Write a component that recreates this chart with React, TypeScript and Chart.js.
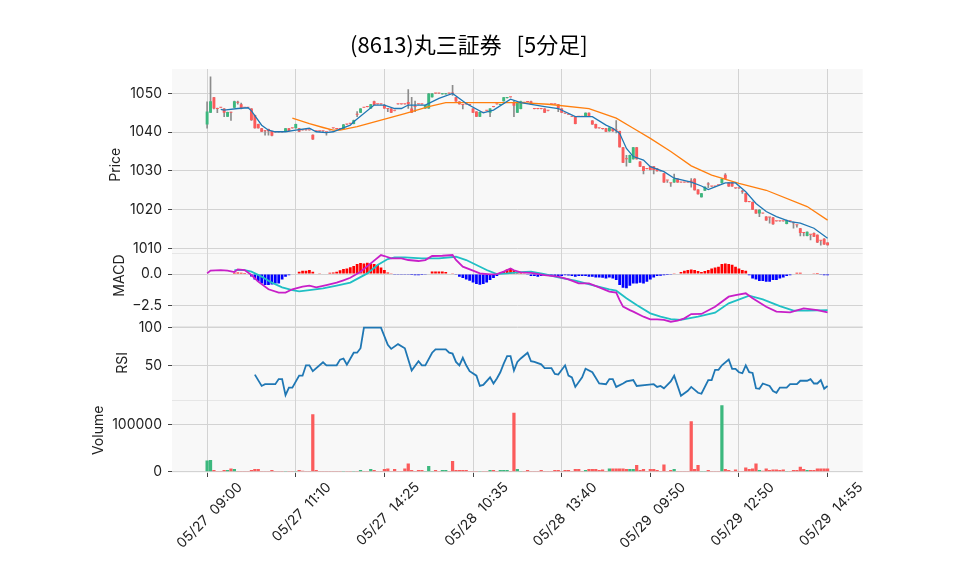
import React, { useEffect, useRef } from 'react';
import { Chart, registerables } from 'chart.js';

Chart.register(...registerables);

const title = '(8613)丸三証券   [5分足]';

const tickPositions = [0, 26, 52, 78, 104, 130, 156, 182];
const tickLabels = ['05/27  09:00', '05/27  11:10', '05/27  14:25', '05/28  10:35', '05/28  13:40', '05/29  09:50', '05/29  12:50', '05/29  14:55'];
const priceTicks = [1010, 1020, 1030, 1040, 1050];
const macdTicks = [-2.5, 0];
const rsiTicks = [50, 100];
const volumeTicks = [0, 100000];

const opens = [
  1042.0, 1045.0, 1049.0, 1046.0, 1046.3, 1046.1, 1044.0, 1045.0, 1046.3, 1047.6,
  1047.2, 1046.3, 1046.3, 1046.1, 1044.4, 1042.1, 1041.0, 1040.2, 1040.8, 1040.3,
  1040.0, 1040.0, 1040.0, 1040.2, 1041.0, 1041.0, 1041.0, 1041.0, 1040.5, 1040.5,
  1040.5, 1039.3, 1040.2, 1040.2, 1040.2, 1040.0, 1040.5, 1041.0, 1040.8, 1040.8,
  1040.8, 1042.0, 1042.2, 1042.1, 1044.5, 1045.0, 1046.3, 1046.5, 1046.1, 1048.0,
  1047.2, 1047.2, 1047.0, 1046.0, 1046.1, 1045.5, 1047.2, 1047.2, 1047.2, 1047.8,
  1046.1, 1046.5, 1047.2, 1047.2, 1046.1, 1046.1, 1049.0, 1050.0, 1050.0, 1049.8,
  1049.8, 1050.0, 1050.0, 1049.0, 1047.9, 1047.0, 1047.2, 1047.0, 1046.1, 1045.3,
  1044.0, 1045.0, 1045.5, 1045.0, 1046.5, 1047.2, 1047.0, 1048.0, 1048.8, 1049.0,
  1047.5, 1045.0, 1046.0, 1047.6, 1047.8, 1048.0, 1046.0, 1046.0, 1046.0, 1046.1,
  1045.5, 1047.2, 1047.2, 1047.2, 1046.1, 1044.8, 1044.5, 1044.0, 1044.0, 1044.0,
  1044.0, 1044.0, 1045.0, 1043.0, 1042.1, 1041.0, 1040.8, 1041.0, 1040.2, 1041.0,
  1040.4, 1040.3, 1036.1, 1033.0, 1032.1, 1033.0, 1036.1, 1032.4, 1031.2, 1030.5,
  1031.2, 1031.2, 1030.6, 1029.9, 1029.4, 1027.5, 1026.8, 1027.0, 1028.0, 1027.0,
  1027.0, 1027.0, 1027.5, 1028.0, 1025.2, 1023.2, 1024.9, 1026.5, 1026.0, 1026.0,
  1026.3, 1026.8, 1029.0, 1027.0, 1027.0, 1025.5, 1025.5, 1024.6, 1024.2, 1022.0,
  1022.0, 1020.0, 1019.0, 1019.0, 1018.2, 1018.0, 1018.0, 1017.0, 1017.0, 1017.0,
  1016.3, 1017.0, 1016.5, 1016.0, 1015.2, 1014.0, 1013.2, 1013.5, 1014.0, 1013.5,
  1012.0, 1012.5, 1011.5,
];
const highs = [
  1047.8, 1054.3, 1049.0, 1046.2, 1046.3, 1046.1, 1045.2, 1045.2, 1048.0, 1048.0,
  1047.5, 1046.3, 1046.3, 1046.1, 1044.4, 1042.1, 1041.0, 1040.5, 1040.8, 1040.3,
  1040.0, 1040.0, 1040.0, 1041.0, 1041.0, 1041.0, 1042.1, 1041.0, 1040.5, 1040.5,
  1040.5, 1039.3, 1040.2, 1040.2, 1040.2, 1040.0, 1040.5, 1041.0, 1040.8, 1040.8,
  1042.0, 1042.0, 1042.2, 1043.1, 1045.3, 1046.1, 1046.3, 1046.5, 1047.2, 1048.0,
  1047.2, 1047.2, 1047.2, 1046.0, 1046.1, 1045.5, 1047.2, 1047.2, 1047.2, 1051.0,
  1049.0, 1048.0, 1047.2, 1047.2, 1047.0, 1050.0, 1050.0, 1050.0, 1050.0, 1050.0,
  1050.0, 1050.0, 1052.1, 1049.0, 1047.9, 1047.0, 1047.2, 1047.0, 1046.1, 1045.3,
  1045.2, 1045.0, 1045.5, 1046.1, 1046.5, 1047.2, 1047.2, 1049.0, 1049.0, 1049.0,
  1048.0, 1047.6, 1048.0, 1047.6, 1047.8, 1048.0, 1046.0, 1046.0, 1046.0, 1046.1,
  1045.5, 1047.2, 1047.2, 1047.2, 1046.1, 1044.8, 1044.5, 1044.0, 1044.0, 1044.0,
  1044.0, 1045.0, 1045.0, 1043.0, 1042.1, 1041.0, 1040.8, 1041.0, 1041.2, 1041.0,
  1043.0, 1040.3, 1036.1, 1034.0, 1034.1, 1036.1, 1036.1, 1032.4, 1031.2, 1030.5,
  1031.2, 1031.2, 1030.6, 1029.9, 1029.4, 1027.5, 1026.8, 1029.2, 1028.0, 1027.0,
  1027.0, 1027.0, 1028.0, 1028.0, 1025.2, 1024.2, 1025.9, 1027.0, 1026.0, 1026.0,
  1026.3, 1028.0, 1029.3, 1027.0, 1027.0, 1025.5, 1025.5, 1025.0, 1024.2, 1022.0,
  1022.0, 1020.0, 1020.0, 1019.0, 1018.2, 1018.0, 1018.0, 1017.0, 1017.0, 1017.0,
  1017.3, 1017.0, 1016.8, 1016.0, 1015.2, 1014.0, 1014.3, 1013.5, 1014.0, 1013.5,
  1012.0, 1012.5, 1011.5,
];
const lows = [
  1041.0, 1045.0, 1046.0, 1045.0, 1046.3, 1044.0, 1044.0, 1043.0, 1046.3, 1047.2,
  1046.0, 1046.3, 1046.3, 1043.0, 1041.0, 1041.0, 1040.1, 1039.2, 1039.2, 1039.0,
  1040.0, 1040.0, 1040.0, 1040.2, 1040.3, 1041.0, 1041.0, 1040.1, 1040.5, 1040.5,
  1040.5, 1038.1, 1040.2, 1040.2, 1040.2, 1039.2, 1040.5, 1041.0, 1040.8, 1040.8,
  1040.8, 1042.0, 1042.2, 1042.1, 1044.0, 1045.0, 1046.3, 1046.5, 1046.1, 1047.0,
  1047.2, 1047.2, 1046.1, 1045.3, 1045.0, 1045.5, 1047.2, 1047.2, 1047.2, 1046.1,
  1045.0, 1045.3, 1047.2, 1047.2, 1046.1, 1046.1, 1049.0, 1050.0, 1050.0, 1049.8,
  1049.8, 1050.0, 1049.5, 1047.9, 1047.2, 1046.0, 1047.2, 1047.0, 1045.0, 1044.0,
  1044.0, 1045.0, 1045.5, 1044.0, 1046.5, 1047.2, 1047.0, 1048.0, 1048.8, 1049.0,
  1044.0, 1045.0, 1046.0, 1047.6, 1047.8, 1047.2, 1046.0, 1046.0, 1046.0, 1045.0,
  1045.5, 1047.2, 1047.2, 1045.3, 1045.0, 1044.8, 1044.5, 1044.0, 1042.1, 1044.0,
  1044.0, 1044.0, 1044.0, 1042.0, 1041.0, 1041.0, 1040.8, 1040.1, 1040.2, 1040.2,
  1039.8, 1036.1, 1032.1, 1031.2, 1032.1, 1033.0, 1033.0, 1031.1, 1029.2, 1030.5,
  1030.2, 1029.2, 1029.9, 1029.9, 1027.0, 1027.0, 1026.0, 1027.0, 1027.0, 1027.0,
  1027.0, 1027.0, 1025.8, 1025.0, 1024.0, 1023.2, 1024.9, 1025.7, 1026.0, 1026.0,
  1026.3, 1026.8, 1028.0, 1026.0, 1026.0, 1025.5, 1025.5, 1024.2, 1022.0, 1022.0,
  1020.0, 1019.0, 1018.2, 1019.0, 1017.2, 1016.5, 1016.2, 1017.0, 1017.0, 1017.0,
  1016.3, 1017.0, 1015.2, 1015.5, 1013.2, 1013.2, 1013.2, 1012.2, 1013.0, 1011.5,
  1010.8, 1011.0, 1010.8,
];
const closes = [
  1045.3, 1048.0, 1046.1, 1046.0, 1046.3, 1045.0, 1045.2, 1045.0, 1048.0, 1047.6,
  1046.1, 1046.3, 1046.3, 1043.1, 1041.0, 1041.0, 1040.1, 1040.2, 1040.2, 1039.1,
  1040.0, 1040.0, 1040.0, 1041.0, 1040.3, 1041.0, 1042.1, 1040.1, 1040.5, 1040.5,
  1040.5, 1038.1, 1040.2, 1040.2, 1040.2, 1040.0, 1040.5, 1041.0, 1040.8, 1040.8,
  1042.0, 1042.0, 1042.2, 1043.1, 1044.5, 1046.1, 1046.3, 1046.5, 1047.2, 1047.0,
  1047.2, 1047.2, 1046.1, 1046.0, 1045.0, 1045.5, 1047.2, 1047.2, 1047.2, 1047.2,
  1045.0, 1046.5, 1047.2, 1047.2, 1047.0, 1050.0, 1050.0, 1050.0, 1050.0, 1050.0,
  1050.0, 1050.0, 1050.0, 1047.9, 1047.2, 1047.0, 1047.2, 1047.0, 1045.0, 1044.0,
  1045.2, 1045.0, 1045.5, 1046.1, 1046.5, 1047.2, 1047.2, 1049.0, 1049.0, 1049.0,
  1046.8, 1047.6, 1048.0, 1047.6, 1047.8, 1047.2, 1046.0, 1046.0, 1046.0, 1045.0,
  1045.5, 1047.2, 1047.2, 1046.1, 1045.0, 1044.8, 1044.5, 1044.0, 1042.1, 1044.0,
  1044.0, 1045.0, 1044.0, 1042.0, 1041.0, 1041.0, 1040.8, 1040.1, 1041.2, 1040.2,
  1040.4, 1036.1, 1032.1, 1033.0, 1034.1, 1036.1, 1033.0, 1031.1, 1030.0, 1030.5,
  1030.2, 1030.2, 1029.9, 1029.9, 1027.0, 1027.5, 1026.8, 1028.0, 1027.0, 1027.0,
  1027.0, 1027.0, 1027.0, 1025.0, 1024.0, 1024.2, 1025.9, 1026.5, 1026.0, 1026.0,
  1026.3, 1028.0, 1028.0, 1026.0, 1026.0, 1025.5, 1025.5, 1024.6, 1022.0, 1022.0,
  1020.0, 1019.0, 1020.0, 1019.0, 1017.2, 1018.0, 1016.2, 1017.0, 1017.0, 1017.0,
  1017.3, 1017.0, 1016.5, 1016.0, 1014.0, 1014.0, 1014.3, 1013.5, 1013.0, 1011.5,
  1012.0, 1011.0, 1010.8,
];
const volumes = [
  24000, 25000, 3500, 1500, 1500, 3500, 3500, 7000, 5600, 1400,
  1400, 1400, 1400, 3500, 5600, 5600, 1400, 1400, 1400, 3500,
  700, 700, 700, 700, 700, 700, 1400, 3500, 2000, 1400,
  1400, 121800, 3500, 1400, 1400, 1400, 1400, 1400, 1400, 1400,
  1400, 1400, 1400, 1400, 1400, 3500, 1400, 1400, 5600, 3500,
  1400, 1400, 5600, 7000, 1400, 5600, 1400, 1400, 7000, 17600,
  3500, 1400, 3500, 3500, 1400, 12000, 1400, 3500, 1400, 3500,
  3500, 1400, 22500, 3500, 3500, 3500, 3500, 1400, 1400, 1400,
  1400, 1400, 1400, 3500, 3500, 1400, 3500, 3500, 3500, 1400,
  125000, 5600, 1400, 1400, 3500, 1400, 1400, 1400, 3500, 1400,
  1400, 1400, 3500, 3500, 1400, 3500, 3500, 1400, 5600, 5600,
  1400, 3500, 5600, 5600, 5600, 3500, 4900, 1400, 7000, 7000,
  7000, 7000, 7000, 5600, 5600, 5600, 14000, 3500, 5600, 1400,
  5600, 5600, 3500, 1400, 15500, 1400, 3500, 5600, 1400, 1400,
  1400, 1400, 107000, 5600, 14000, 1400, 1400, 3500, 1400, 1400,
  1400, 140800, 5600, 3500, 1400, 4900, 1400, 1400, 9000, 5600,
  7000, 17600, 3500, 2000, 7000, 3500, 4900, 4900, 3500, 4900,
  1400, 1400, 3500, 3500, 10500, 5600, 3500, 3500, 3500, 7000,
  7000, 7000, 7000,
];
const macdHist = [
  0, 0, 0, 0, 0, 0, 0, 0, 0.1, 0.13,
  0.1, 0.08, 0.05, -0.2, -0.43, -0.6, -0.75, -0.88, -0.88, -0.83,
  -0.75, -0.75, -0.43, -0.21, -0.1, -0.03, 0.05, 0.19, 0.27, 0.27,
  0.32, 0.19, 0.05, 0.02, 0.05, 0.05, 0.1, 0.13, 0.19, 0.3,
  0.4, 0.45, 0.55, 0.65, 0.8, 0.88, 0.85, 0.9, 0.85, 0.8,
  0.72, 0.53, 0.32, 0.13, 0.02, -0.05, -0.05, -0.05, -0.02, -0.02,
  -0.08, -0.1, -0.1, -0.08, -0.05, 0.05, 0.21, 0.21, 0.21, 0.21,
  0.16, 0.05, 0.02, -0.05, -0.21, -0.32, -0.43, -0.53, -0.67, -0.8,
  -0.85, -0.8, -0.67, -0.48, -0.32, -0.16, 0.1, 0.21, 0.37, 0.43,
  0.32, 0.19, 0.08, 0.03, -0.05, -0.16, -0.16, -0.21, -0.16, -0.12,
  -0.1, -0.16, -0.16, -0.16, -0.16, -0.1, -0.12, -0.16, -0.21, -0.16,
  -0.16, -0.16, -0.21, -0.21, -0.27, -0.27, -0.29, -0.35, -0.27, -0.35,
  -0.48, -0.88, -1.09, -1.14, -0.93, -0.75, -0.75, -0.69, -0.75, -0.61,
  -0.43, -0.27, -0.16, -0.13, -0.1, -0.08, -0.05, 0.02, 0.05, 0.16,
  0.27, 0.32, 0.37, 0.32, 0.24, 0.16, 0.24, 0.32, 0.45, 0.53,
  0.59, 0.8, 0.85, 0.8, 0.75, 0.59, 0.45, 0.32, 0.27, -0.1,
  -0.35, -0.43, -0.56, -0.56, -0.61, -0.61, -0.48, -0.48, -0.35, -0.27,
  -0.16, -0.1, 0.05, 0.1, 0.1, 0.05, 0.05, 0.05, 0.03, 0.01,
  -0.02, -0.1, -0.1,
];

// [bar index, value] pairs
const maShort = [
  [4, 1045.9], [5, 1045.7], [9, 1046.1], [12, 1046.3], [13, 1045.5], [16, 1041.8], [18, 1040.5], [20, 1040.1],
  [23, 1040.1], [26, 1040.5], [30, 1041.0], [32, 1040.1], [35, 1039.9], [37, 1040.1], [39, 1040.8], [42, 1041.8],
  [43, 1042.7], [49, 1047.0], [52, 1047.0], [55, 1046.1], [57, 1046.1], [59, 1047.0], [64, 1047.0], [68, 1048.7],
  [72, 1050.0], [76, 1047.4], [81, 1045.0], [84, 1045.7], [89, 1048.5], [92, 1047.6], [99, 1046.6], [103, 1046.1],
  [108, 1044.0], [113, 1044.0], [117, 1041.8], [119, 1041.0], [121, 1039.7], [123, 1035.8], [125, 1033.7], [128, 1032.8],
  [130, 1031.1], [134, 1029.8], [137, 1028.1], [142, 1027.1], [145, 1026.1], [147, 1025.2], [149, 1025.9], [152, 1026.9],
  [155, 1026.9], [158, 1024.6], [161, 1021.6], [164, 1019.5], [167, 1018.2], [171, 1016.9], [174, 1016.5], [178, 1015.2],
  [182, 1012.6],
];
const maLong = [
  [25, 1043.6], [30, 1042.2], [34, 1041.2], [37, 1040.5], [39, 1040.5], [44, 1041.4], [58, 1044.8], [65, 1046.6],
  [70, 1047.6], [80, 1047.6], [92, 1047.6], [100, 1047.2], [112, 1046.1], [120, 1043.6], [125, 1041.0], [130, 1038.4],
  [136, 1035.0], [142, 1031.3], [148, 1028.9], [156, 1026.8], [164, 1025.0], [176, 1020.8], [182, 1017.3],
];
const macdLine = [
  [0, 0.05], [1, 0.27], [4, 0.32], [6, 0.27], [8, 0.16], [9, 0.37], [11, 0.32], [13, -0.08], [15, -0.61], [18, -1.22],
  [21, -1.49], [23, -1.49], [25, -1.22], [28, -1.01], [30, -0.93], [32, -1.06], [35, -0.88], [38, -0.69], [40, -0.5],
  [42, -0.3], [45, 0.19], [48, 0.85], [51, 1.52], [52, 1.44], [54, 1.25], [57, 1.25], [59, 1.12], [62, 1.04], [64, 1.12],
  [66, 1.44], [69, 1.46], [72, 1.52], [73, 1.12], [75, 0.59], [78, 0.27], [80, 0.05], [83, -0.03], [85, 0.0], [87, 0.19],
  [89, 0.45], [90, 0.3], [92, 0.13], [95, 0.1], [99, -0.08], [103, -0.21], [106, -0.43], [109, -0.75], [112, -0.75],
  [115, -1.06], [118, -1.41], [120, -1.49], [121, -2.08], [122, -2.6], [124, -2.88], [125, -3.0], [128, -3.41],
  [130, -3.62], [132, -3.62], [134, -3.67], [136, -3.81], [138, -3.73], [140, -3.54], [142, -3.2], [145, -3.19],
  [149, -2.61], [153, -1.81], [155, -1.68], [158, -1.54], [160, -1.94], [164, -2.61], [167, -3.0], [171, -3.06],
  [175, -2.74], [179, -2.88], [182, -3.06],
];
const signalLine = [
  [8, 0.32], [11, 0.32], [13, 0.19], [16, -0.21], [19, -0.69], [22, -1.06], [25, -1.28], [27, -1.38], [30, -1.28],
  [34, -1.14], [38, -0.92], [42, -0.68], [47, 0.05], [50, 0.72], [53, 1.2], [55, 1.33], [58, 1.33], [63, 1.25],
  [68, 1.25], [73, 1.38], [76, 1.12], [79, 0.72], [82, 0.32], [85, 0.0], [88, 0.05], [92, 0.15], [95, 0.19], [99, 0.0],
  [103, -0.27], [108, -0.53], [113, -0.88], [118, -1.22], [120, -1.33], [123, -1.94], [126, -2.48], [130, -3.14],
  [133, -3.41], [136, -3.6], [139, -3.67], [142, -3.5], [144, -3.41], [149, -3.09], [153, -2.34], [159, -1.73],
  [163, -2.02], [168, -2.56], [172, -2.93], [176, -2.93], [182, -2.88],
];
const rsiLine = [
  [14, 38.3], [16, 23.4], [17, 25.7], [20, 25.7], [21, 32.4], [22, 32.4], [23, 11.3], [24, 21.2], [25, 21.2],
  [27, 36.9], [28, 36.9], [29, 50.5], [30, 50.5], [31, 42.8], [34, 54.5], [35, 50.5], [38, 50.5], [39, 58.0],
  [40, 59.5], [41, 51.4], [43, 67.1], [44, 67.1], [45, 73.0], [46, 100], [51, 100], [53, 77.5], [54, 72.1],
  [56, 78.4], [58, 73.0], [60, 43.7], [62, 55.9], [63, 50.5], [64, 50.5], [66, 67.1], [67, 71.6], [70, 71.6],
  [71, 67.1], [72, 66.0], [73, 55.0], [74, 50.5], [75, 60.4], [76, 50.5], [77, 42.8], [79, 36.9], [80, 23.4],
  [81, 24.8], [83, 34.7], [84, 26.6], [85, 33.3], [86, 41.4], [87, 52.7], [88, 62.6], [89, 62.6], [90, 43.7],
  [91, 55.0], [92, 59.5], [94, 67.1], [95, 55.9], [96, 55.0], [98, 51.8], [99, 46.8], [101, 46.8], [102, 39.2],
  [103, 38.3], [105, 50.5], [106, 36.9], [107, 34.7], [108, 22.1], [110, 34.7], [111, 46.0], [113, 41.4],
  [115, 26.6], [117, 25.7], [118, 32.4], [119, 32.4], [120, 22.1], [122, 26.6], [123, 29.3], [125, 31.1],
  [126, 23.4], [129, 24.8], [131, 25.7], [132, 22.1], [133, 23.4], [134, 20.3], [136, 29.3], [137, 36.9],
  [139, 10.5], [141, 17.0], [142, 22.1], [144, 14.4], [145, 13.1], [147, 31.1], [148, 31.1], [149, 44.6],
  [150, 44.6], [151, 50.5], [153, 58.1], [154, 45.9], [155, 45.9], [156, 41.4], [157, 40.1], [158, 50.5],
  [159, 41.4], [160, 40.5], [161, 20.3], [162, 19.8], [163, 26.6], [165, 23.4], [166, 16.7], [167, 14.4],
  [168, 21.2], [170, 21.2], [171, 25.7], [173, 25.7], [174, 30.2], [176, 30.2], [177, 32.4], [178, 26.6],
  [179, 26.6], [180, 31.1], [181, 19.8], [182, 23.4],
];

const UP = '#3cb87e';
const DOWN = '#fb5b5b';
const GRID = '#d3d3d3';
const TICK_FONT = { family: 'Inter', size: 14 };
const TEXT = '#222222';

const pts = (arr: number[][]) => arr.map(([x, y]) => ({ x, y }));
const isUp = (i: number) => closes[i] > opens[i];

function yAxis(weight: number, order: number, min: number, max: number, ticks: number[], label: string, titlePad: number, fmt: (v: number) => string) {
  return {
    type: 'linear',
    position: 'left',
    stack: 'panels',
    stackWeight: weight,
    weight: order,
    min,
    max,
    border: { display: false },
    grid: { color: GRID, lineWidth: 1, tickLength: 4, tickColor: '#444444' },
    ticks: { font: TICK_FONT, color: TEXT, padding: 6, callback: (v: number) => fmt(v) },
    title: { display: true, text: label, font: TICK_FONT, color: TEXT, padding: { top: titlePad, bottom: 0 } },
    afterBuildTicks: (s: any) => { s.ticks = ticks.map((v) => ({ value: v })); },
    afterFit: (s: any) => { s.width = 97; },
  };
}

const panelBg = {
  id: 'panelBg',
  beforeDraw(chart: any) {
    const { ctx, chartArea } = chart;
    ctx.save();
    ctx.fillStyle = '#f8f8f8';
    ctx.fillRect(chartArea.left, chartArea.top, chartArea.right - chartArea.left, chartArea.bottom - chartArea.top);
    ctx.strokeStyle = '#e6e6e6';
    ctx.lineWidth = 1;
    ['yMacd', 'yRsi', 'yVol'].forEach((id) => {
      const s = chart.scales[id];
      const y = Math.round(s.top) + 0.5;
      ctx.beginPath();
      ctx.moveTo(chartArea.left, y);
      ctx.lineTo(chartArea.right, y);
      ctx.stroke();
    });
    ctx.restore();
  },
};

export default function App() {
  const ref = useRef<HTMLCanvasElement>(null);
  useEffect(() => {
    const idx = closes.map((_, i) => i);
    const chart = new Chart(ref.current as HTMLCanvasElement, {
      type: 'bar',
      data: {
        datasets: [
          { type: 'line', label: 'MA short', data: pts(maShort), yAxisID: 'yPrice', borderColor: '#1f77b4', borderWidth: 1.3, pointRadius: 0, order: 0 },
          { type: 'line', label: 'MA long', data: pts(maLong), yAxisID: 'yPrice', borderColor: '#ff7f0e', borderWidth: 1.3, pointRadius: 0, order: 0 },
          {
            type: 'bar', label: 'body', yAxisID: 'yPrice', order: 1, grouped: false,
            data: idx.map((i) => ({ x: i, y: [opens[i], closes[i]] })),
            backgroundColor: (c: any) => (isUp(c.dataIndex) ? UP : DOWN),
            barPercentage: 0.85, categoryPercentage: 1, minBarLength: 1,
          },
          {
            type: 'bar', label: 'wick', yAxisID: 'yPrice', order: 2, grouped: false,
            data: idx.map((i) => ({ x: i, y: [lows[i], highs[i]] })),
            backgroundColor: '#8c8c8c', barThickness: 1,
          },
          { type: 'line', label: 'MACD', data: pts(macdLine), yAxisID: 'yMacd', borderColor: '#c81fc8', borderWidth: 1.8, pointRadius: 0, order: 0 },
          { type: 'line', label: 'Signal', data: pts(signalLine), yAxisID: 'yMacd', borderColor: '#1fbfc4', borderWidth: 1.8, pointRadius: 0, order: 0 },
          {
            type: 'bar', label: 'Hist', yAxisID: 'yMacd', order: 3, grouped: false,
            data: idx.map((i) => ({ x: i, y: macdHist[i] })),
            backgroundColor: (c: any) => (macdHist[c.dataIndex] >= 0 ? '#ff0000' : '#0000ff'),
            barPercentage: 0.8, categoryPercentage: 1,
          },
          { type: 'line', label: 'RSI', data: pts(rsiLine), yAxisID: 'yRsi', borderColor: '#1f77b4', borderWidth: 1.8, pointRadius: 0, order: 0 },
          {
            type: 'bar', label: 'Volume', yAxisID: 'yVol', order: 3, grouped: false,
            data: idx.map((i) => ({ x: i, y: volumes[i] })),
            backgroundColor: (c: any) => (isUp(c.dataIndex) ? UP : DOWN),
            barPercentage: 0.95, categoryPercentage: 1,
          },
        ],
      } as any,
      options: {
        animation: false,
        responsive: false,
        devicePixelRatio: 1,
        layout: { padding: { left: 75, right: 95.3, top: 0, bottom: 0 } },
        plugins: {
          legend: { display: false },
          tooltip: { enabled: false },
          title: {
            display: true, text: title, color: '#000000',
            font: { family: 'Noto Sans CJK JP', size: 22, weight: 'normal', lineHeight: 1.2 },
            padding: { top: 31.8, bottom: 10.8 },
          },
        },
        scales: {
          x: {
            type: 'linear', position: 'bottom', min: -10.3, max: 192.3, offset: false,
            border: { display: false },
            grid: { color: GRID, lineWidth: 1, tickLength: 4, tickColor: '#444444', offset: false },
            ticks: {
              autoSkip: false, maxRotation: 45, minRotation: 45, labelOffset: 33, padding: 2,
              font: TICK_FONT, color: TEXT,
              callback: (v: number) => tickLabels[tickPositions.indexOf(v)] ?? '',
            },
            afterBuildTicks: (s: any) => { s.ticks = tickPositions.map((v) => ({ value: v })); },
            afterFit: (s: any) => { s.height = 102; },
          },
          yPrice: yAxis(5, 4, 1008.9, 1056.3, priceTicks, 'Price  ', 32.4, (v) => String(v)),
          yMacd: yAxis(2, 3, -4.16, 1.71, macdTicks, '       MACD', 36.1, (v) => v.toFixed(1).replace('-', '\u2212')),
          yRsi: yAxis(2, 2, 5.5, 102.1, rsiTicks, 'RSI', 39.1, (v) => String(v)),
          yVol: yAxis(2, 1, -2743, 153165, volumeTicks, '   Volume', 14.9, (v) => String(v)),
        } as any,
      },
      plugins: [panelBg],
    });
    return () => chart.destroy();
  }, []);

  return (
    <div style={{ position: 'absolute', left: 0, top: 0, width: 958, height: 575, background: '#ffffff' }}>
      <canvas ref={ref} width={958} height={575} style={{ display: 'block', width: 958, height: 575 }} />
    </div>
  );
}
